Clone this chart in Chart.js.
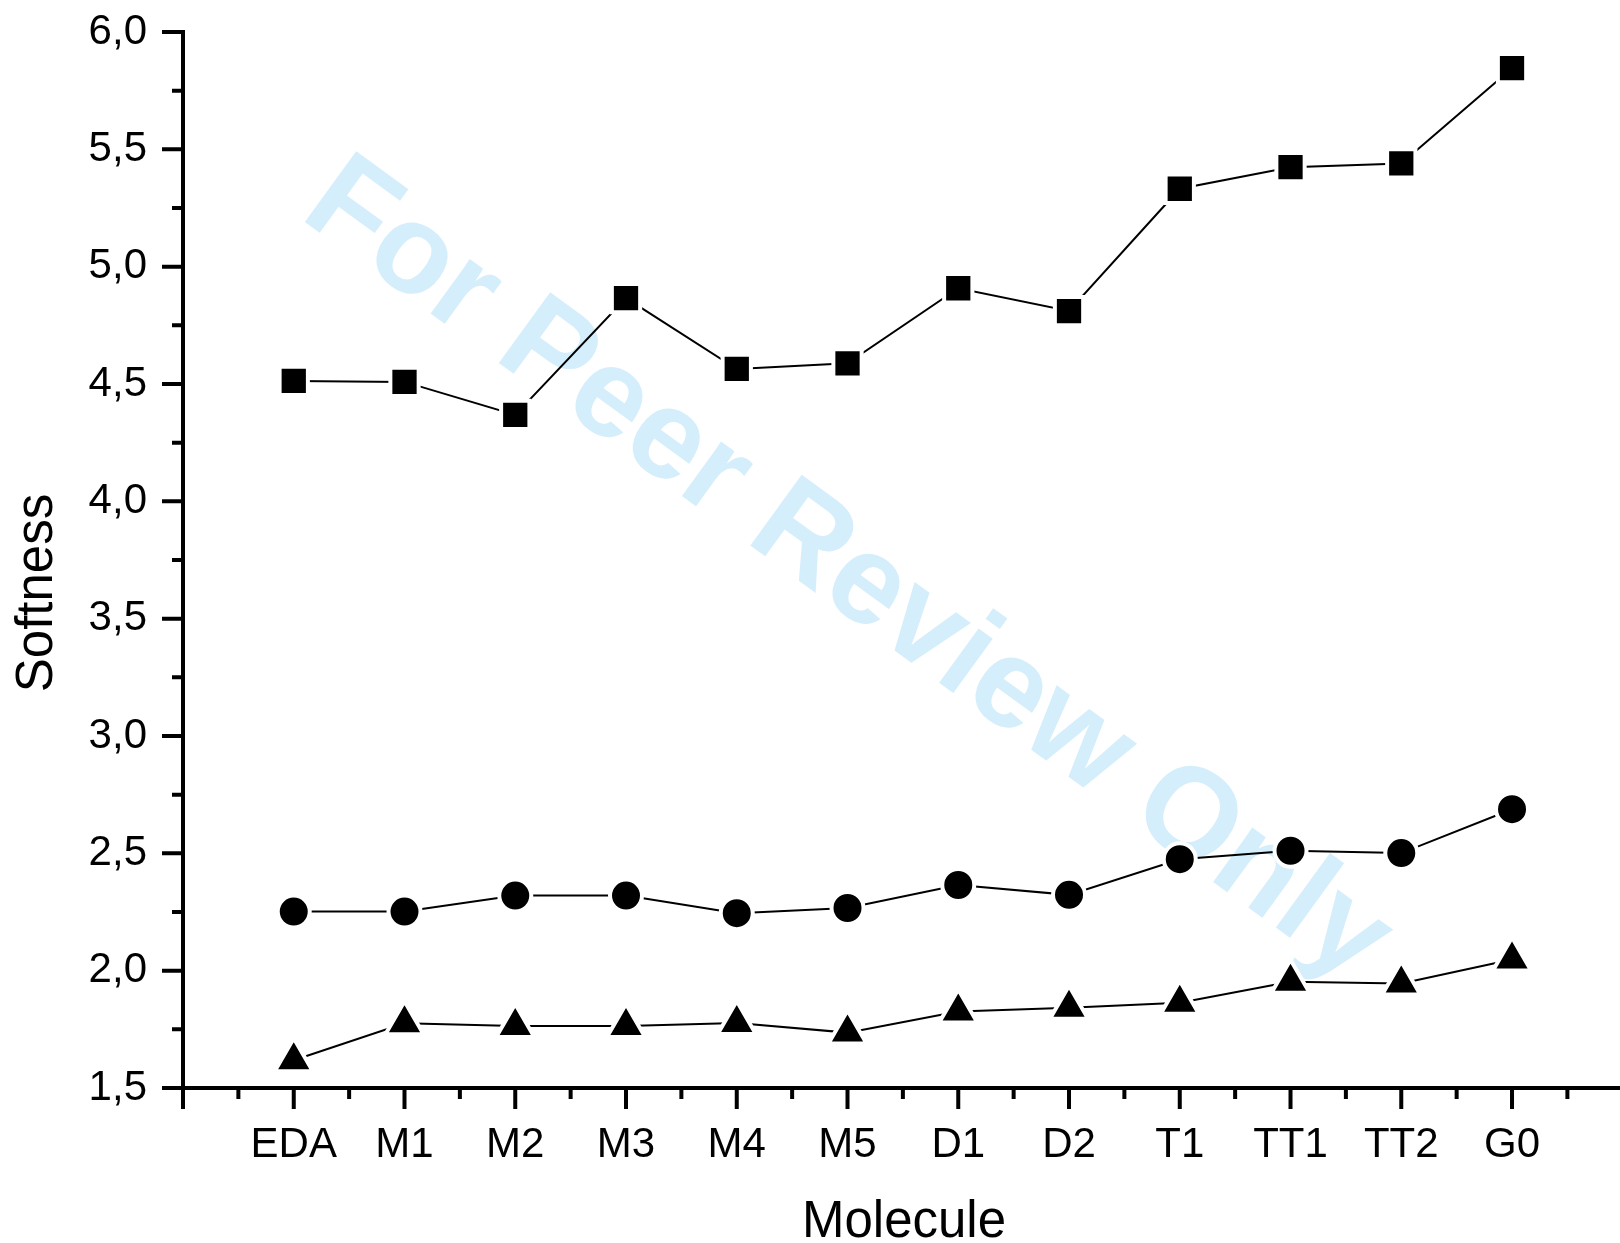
<!DOCTYPE html>
<html>
<head>
<meta charset="utf-8">
<script src="https://cdn.jsdelivr.net/npm/chart.js@4"></script>
<style>
    html, body { margin: 0; padding: 0; background: #fff; overflow: hidden; }
    canvas { display: block; }
</style>
</head>
<body>
<canvas id="softness-chart" width="1620" height="1243"></canvas>
<script>
const molecules = ['EDA', 'M1', 'M2', 'M3', 'M4', 'M5', 'D1', 'D2', 'T1', 'TT1', 'TT2', 'G0'];
const squareSeries = [4.513, 4.509, 4.368, 4.866, 4.564, 4.588, 4.908, 4.811, 5.332, 5.424, 5.440, 5.846];
const circleSeries = [2.252, 2.252, 2.320, 2.320, 2.245, 2.267, 2.365, 2.323, 2.475, 2.511, 2.501, 2.688];
const triangleSeries = [1.618, 1.776, 1.764, 1.764, 1.777, 1.736, 1.826, 1.842, 1.863, 1.953, 1.945, 2.048];
const yTickValues = [1.5, 2.0, 2.5, 3.0, 3.5, 4.0, 4.5, 5.0, 5.5, 6.0];

const FONT = "'Liberation Sans', Arial, sans-serif";

document.addEventListener('DOMContentLoaded', () => {
    const canvas = document.getElementById('softness-chart');

    const toPoints = (values) => values.map((v, i) => ({ x: i + 1, y: v }));

    const makeSeries = (values, style, radius) => ({
        data: toPoints(values),
        borderColor: '#000',
        borderWidth: 2,
        pointStyle: style,
        pointRadius: radius,
        pointHoverRadius: radius,
        pointBackgroundColor: '#000',
        pointBorderColor: '#fff',   // white ring gives the gap between line and marker
        pointBorderWidth: 4,
        pointHoverBorderWidth: 4,
        tension: 0
    });

    // "For Peer Review Only" stamp behind the data
    const watermark = {
        id: 'watermark',
        beforeDatasetsDraw(chart) {
            const ctx = chart.ctx;
            ctx.save();
            ctx.translate(298, 217);
            ctx.rotate(36 * Math.PI / 180);
            ctx.font = 'bold 127px ' + FONT;
            ctx.fillStyle = '#d5eefb';
            ctx.textAlign = 'left';
            ctx.textBaseline = 'alphabetic';
            ctx.fillText('For Peer Review Only', 0, 0);
            ctx.restore();
        }
    };

    // major / minor tick marks, Origin style
    const tickMarks = {
        id: 'tickMarks',
        afterDraw(chart) {
            const ctx = chart.ctx;
            const xs = chart.scales.x;
            const ys = chart.scales.y;
            const left = chart.chartArea.left;
            const bottom = chart.chartArea.bottom;
            ctx.save();
            ctx.strokeStyle = '#000';
            ctx.lineWidth = 4;
            ctx.lineCap = 'butt';
            ctx.beginPath();
            ys.ticks.forEach(t => {
                const major = Math.abs(t.value * 2 - Math.round(t.value * 2)) < 1e-6;
                const py = ys.getPixelForValue(t.value);
                ctx.moveTo(left - (major ? 21 : 11), py);
                ctx.lineTo(left, py);
            });
            xs.ticks.forEach(t => {
                const major = Math.abs(t.value - Math.round(t.value)) < 1e-6;
                const px = xs.getPixelForValue(t.value);
                ctx.moveTo(px, bottom);
                ctx.lineTo(px, bottom + (major ? 21 : 11));
            });
            ctx.stroke();

            // axis titles
            ctx.fillStyle = '#000';
            ctx.font = '51px ' + FONT;
            ctx.textAlign = 'center';
            ctx.textBaseline = 'alphabetic';
            ctx.fillText('Molecule', 904, 1237);
            ctx.translate(52, 593);
            ctx.rotate(-Math.PI / 2);
            ctx.fillText('Softness', 0, 0);
            ctx.restore();
        }
    };

    new Chart(canvas, {
        type: 'line',
        data: {
            datasets: [
                makeSeries(squareSeries, 'rect', 20),
                makeSeries(circleSeries, 'circle', 16),
                makeSeries(triangleSeries, 'triangle', 22)
            ]
        },
        options: {
            responsive: false,
            animation: false,
            devicePixelRatio: 1,
            layout: { autoPadding: false, padding: { top: 32, right: 0, bottom: 0, left: 0 } },
            plugins: {
                legend: { display: false },
                tooltip: { enabled: false }
            },
            scales: {
                x: {
                    type: 'linear',
                    min: 0,
                    max: 12.975,
                    afterBuildTicks: (scale) => {
                        const ticks = [];
                        for (let v = 0; v <= 12.5; v += 0.5) ticks.push({ value: v });
                        scale.ticks = ticks;
                    },
                    afterFit: (scale) => { scale.height = 155; },
                    // tick marks are drawn by the plugin; tickLength only spaces the labels
                    grid: { display: false, drawTicks: true, tickLength: 32 },
                    border: { display: true, width: 4, color: '#000' },
                    ticks: {
                        autoSkip: false,
                        maxRotation: 0,
                        padding: 0,
                        color: '#000',
                        font: { family: FONT, size: 42 },
                        callback: (v) => {
                            if (Math.abs(v - Math.round(v)) > 1e-6) return '';
                            return molecules[Math.round(v) - 1] || '';
                        }
                    }
                },
                y: {
                    min: 1.5,
                    max: 6.0,
                    afterBuildTicks: (scale) => {
                        const ticks = [];
                        yTickValues.forEach((v, i) => {
                            ticks.push({ value: v });
                            if (i < yTickValues.length - 1) ticks.push({ value: v + 0.25 });
                        });
                        scale.ticks = ticks;
                    },
                    afterFit: (scale) => { scale.width = 183; },
                    grid: { display: false, drawTicks: true, tickLength: 36 },
                    border: { display: true, width: 4, color: '#000' },
                    ticks: {
                        autoSkip: false,
                        padding: 0,
                        color: '#000',
                        font: { family: FONT, size: 42 },
                        callback: (v) => {
                            if (Math.abs(v * 2 - Math.round(v * 2)) > 1e-6) return '';
                            return v.toFixed(1).replace('.', ',');
                        }
                    }
                }
            }
        },
        plugins: [watermark, tickMarks]
    });
});
</script>
</body>
</html>
